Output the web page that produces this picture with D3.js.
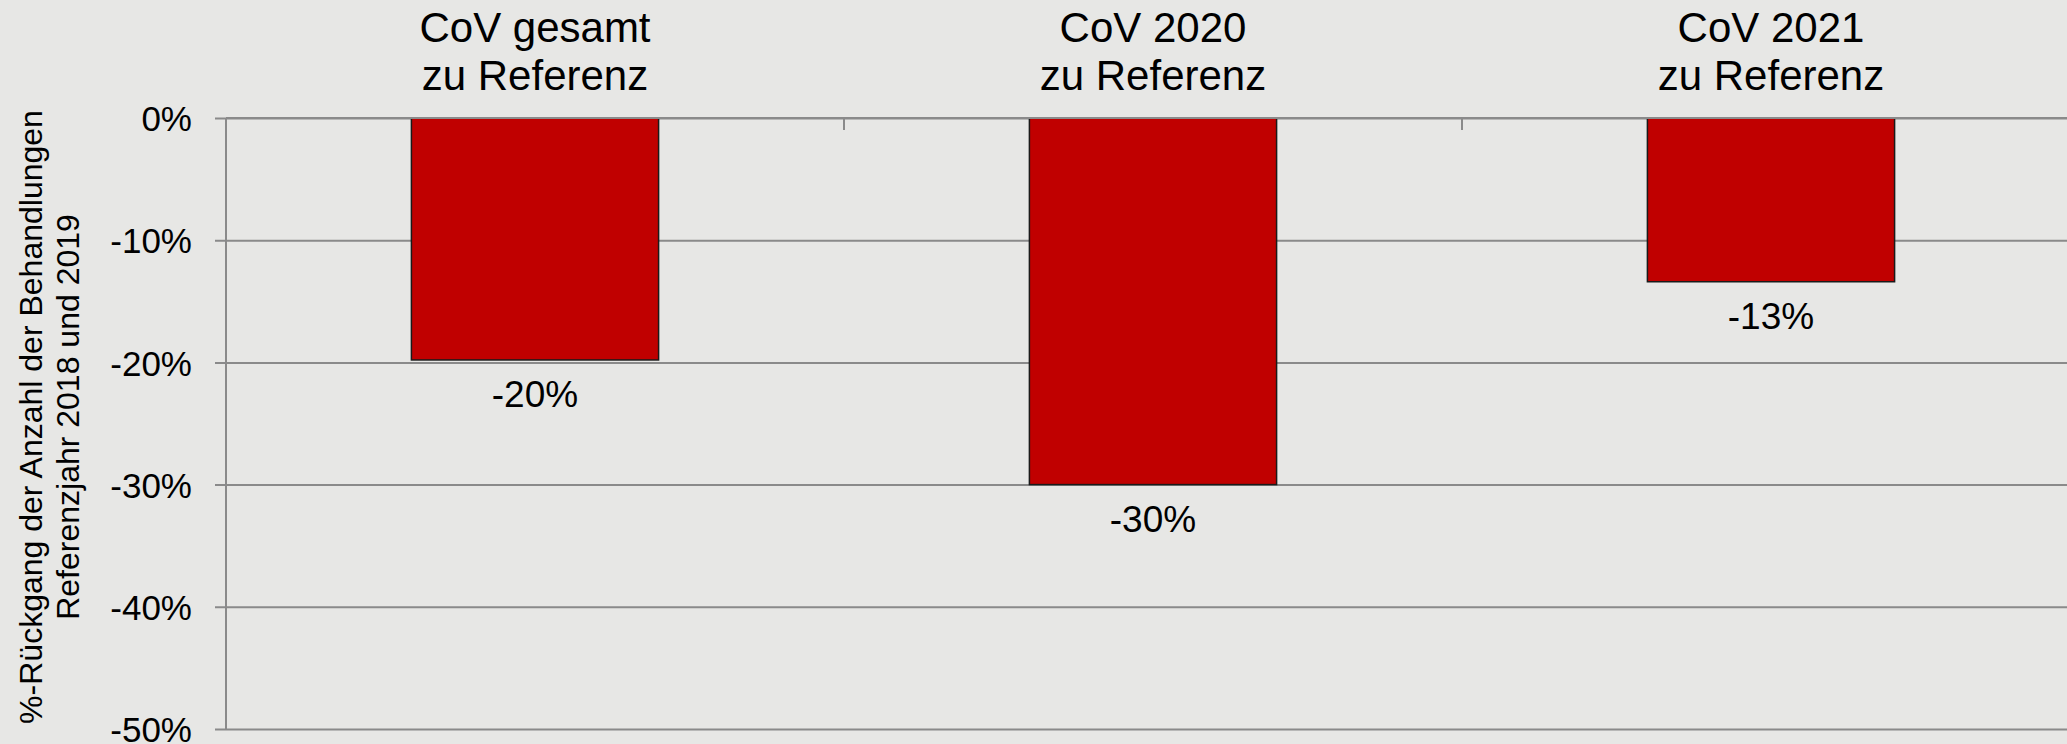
<!DOCTYPE html>
<html>
<head>
<meta charset="utf-8">
<script src="https://cdn.jsdelivr.net/npm/d3@7"></script>
<style>
  body { margin: 0; background: #e7e7e5; }
  svg { display: block; font-family: "Liberation Sans", Arial, sans-serif; }
</style>
</head>
<body>
<div id="chart"></div>
<script>
const categories = ['CoV gesamt\nzu Referenz', 'CoV 2020\nzu Referenz', 'CoV 2021\nzu Referenz'];
const values = [-19.8, -30.0, -13.4];
const yTicks = [0, -10, -20, -30, -40, -50];
const yTitle = ['%-Rückgang der Anzahl der Behandlungen', 'Referenzjahr 2018 und 2019'];

const W = 2067, H = 744;
const margin = {top: 118, left: 226, bottom: 15};
const plotH = H - margin.top - margin.bottom;
const gridCol = '#8a8a8a';

const svg = d3.select('#chart').append('svg')
  .attr('width', W)
  .attr('height', H);

svg.append('rect').attr('width', W).attr('height', H).attr('fill', '#e7e7e5');

const x = d3.scaleBand()
  .domain(categories)
  .range([0, 1854])
  .paddingInner(0.6)
  .paddingOuter(0.3);

const y = d3.scaleLinear()
  .domain([-50, 0])
  .range([plotH, 0]);

const g = svg.append('g')
  .attr('transform', `translate(${margin.left}, ${margin.top})`);

// gridlines + y ticks
const yAxis = g.append('g')
  .call(d3.axisLeft(y).tickValues(yTicks).tickFormat(d => d + '%'));
yAxis.select('.domain').remove();
yAxis.selectAll('.tick line')
  .attr('x1', -11)
  .attr('x2', W - margin.left)
  .attr('stroke', gridCol)
  .attr('stroke-width', 2);
yAxis.selectAll('.tick text')
  .attr('x', -34)
  .attr('dy', '0.36em')
  .attr('fill', '#000')
  .style('font-size', '35px')
  .style('font-family', '"Liberation Sans", Arial, sans-serif');

// y axis line
g.append('line')
  .attr('x1', 0).attr('x2', 0)
  .attr('y1', y(0)).attr('y2', y(-50))
  .attr('stroke', gridCol)
  .attr('stroke-width', 2);

// bars
g.selectAll('rect.bar')
  .data(values)
  .join('rect')
    .attr('class', 'bar')
    .attr('x', (d, i) => x(categories[i]))
    .attr('y', y(0))
    .attr('width', x.bandwidth())
    .attr('height', d => y(d) - y(0))
    .attr('fill', '#c00000')
    .attr('stroke', '#1a1a1a')
    .attr('stroke-width', 1.5);

// category axis along the 0% line
const half = x.step() * x.paddingInner() / 2;
g.append('line')
  .attr('x1', 0).attr('x2', W - margin.left)
  .attr('y1', y(0)).attr('y2', y(0))
  .attr('stroke', gridCol)
  .attr('stroke-width', 2);
g.selectAll('line.xtick')
  .data(categories.slice(1))
  .join('line')
    .attr('class', 'xtick')
    .attr('x1', d => x(d) - half)
    .attr('x2', d => x(d) - half)
    .attr('y1', y(0))
    .attr('y2', y(0) + 12)
    .attr('stroke', gridCol)
    .attr('stroke-width', 2);

// category labels above the plot
const catText = g.selectAll('text.cat')
  .data(categories)
  .join('text')
    .attr('class', 'cat')
    .attr('text-anchor', 'middle')
    .attr('x', d => x(d) + x.bandwidth() / 2)
    .attr('y', 42 - margin.top)
    .style('font-size', '42px')
    .attr('fill', '#000');
catText.selectAll('tspan')
  .data(d => d.split('\n'))
  .join('tspan')
    .attr('x', function() { return this.parentNode.getAttribute('x'); })
    .attr('dy', (d, i) => i === 0 ? 0 : 48)
    .text(d => d);

// value labels under the bars
g.selectAll('text.val')
  .data(values)
  .join('text')
    .attr('class', 'val')
    .attr('text-anchor', 'middle')
    .attr('x', (d, i) => x(categories[i]) + x.bandwidth() / 2)
    .attr('y', d => y(d) + 47)
    .style('font-size', '37px')
    .attr('fill', '#000')
    .text(d => Math.round(d) + '%');

// y axis title, two lines
svg.append('text')
  .attr('transform', 'translate(0, 417) rotate(-90)')
  .attr('text-anchor', 'middle')
  .style('font-size', '32px')
  .attr('fill', '#000')
  .selectAll('tspan')
  .data(yTitle)
  .join('tspan')
    .attr('x', 0)
    .attr('y', (d, i) => 42 + i * 37)
    .text(d => d);
</script>
</body>
</html>
